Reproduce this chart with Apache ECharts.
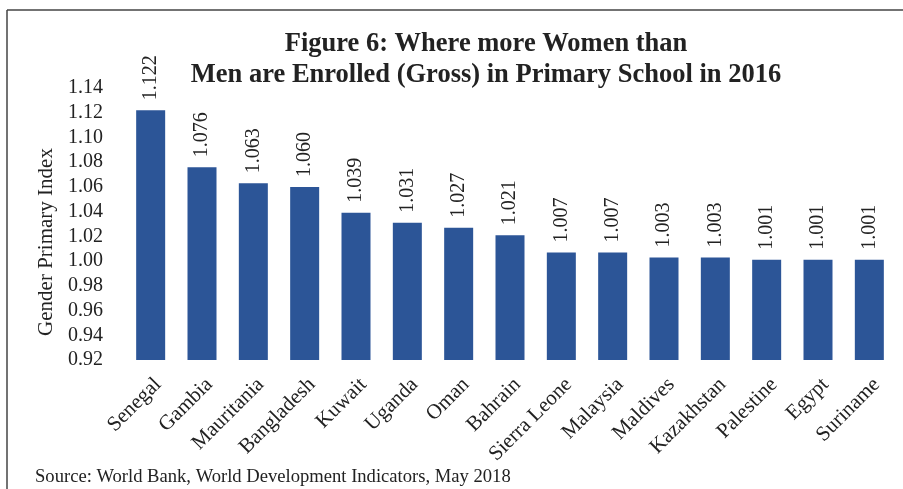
<!DOCTYPE html>
<html>
<head>
<meta charset="utf-8">
<script src="https://cdn.jsdelivr.net/npm/echarts@6/dist/echarts.min.js"></script>
<style>
  html, body { margin: 0; padding: 0; background: #fff; }
  #chart { width: 903px; height: 489px; }
</style>
</head>
<body>
<div id="chart"></div>
<script>
// countries, left to right
const countries = ['Senegal', 'Gambia', 'Mauritania', 'Bangladesh', 'Kuwait', 'Uganda', 'Oman',
  'Bahrain', 'Sierra Leone', 'Malaysia', 'Maldives', 'Kazakhstan', 'Palestine', 'Egypt', 'Suriname'];
// gender parity index (gross primary enrolment), 2016
const gpi = [1.122, 1.076, 1.063, 1.060, 1.039, 1.031, 1.027, 1.021, 1.007, 1.007, 1.003, 1.003, 1.001, 1.001, 1.001];

const serif = '"Liberation Serif", "DejaVu Serif", serif';

let myChart = echarts.init(document.getElementById('chart'));
myChart.setOption({
  animation: false,
  graphic: [
    // frame (top and left edges only)
    { type: 'line', shape: { x1: 7, y1: 10, x2: 903, y2: 10 }, style: { stroke: '#444', lineWidth: 1.5 } },
    { type: 'line', shape: { x1: 7, y1: 10, x2: 7, y2: 489 }, style: { stroke: '#444', lineWidth: 1.5 } },
    {
      type: 'text', x: 486, y: 29,
      style: {
        text: 'Figure 6: Where more Women than\nMen are Enrolled (Gross) in Primary School in 2016',
        font: 'bold 26.5px ' + serif, fill: '#222', textAlign: 'center', lineHeight: 31
      }
    },
    {
      type: 'text', left: 35, top: 468,
      style: { text: 'Source: World Bank, World Development Indicators, May 2018', font: '18.6px ' + serif, fill: '#222' }
    }
  ],
  grid: { left: 125, right: 8, top: 88, bottom: 129 },
  xAxis: {
    type: 'category',
    data: countries,
    axisLine: { show: false },
    axisTick: { show: false },
    axisLabel: {
      rotate: 45, margin: 14, interval: 0, verticalAlign: 'top',
      fontFamily: serif, fontSize: 21, color: '#222'
    }
  },
  yAxis: {
    type: 'value',
    min: 0.92,
    max: 1.14,
    interval: 0.02,
    name: 'Gender Primary Index',
    nameLocation: 'middle',
    nameGap: 68,
    nameTextStyle: { fontFamily: serif, fontSize: 21, color: '#222', padding: [0, 36, 0, 0] },
    splitLine: { show: false },
    axisLine: { show: false },
    axisTick: { show: false },
    axisLabel: { margin: 22, fontFamily: serif, fontSize: 20, color: '#222', formatter: v => v.toFixed(2) }
  },
  series: [{
    type: 'bar',
    data: gpi,
    barWidth: 29,
    itemStyle: { color: '#2C5597' },
    label: {
      show: true,
      position: 'top',
      rotate: 90,
      align: 'left',
      verticalAlign: 'middle',
      distance: 10,
      fontFamily: serif,
      fontSize: 20,
      color: '#222',
      formatter: p => p.value.toFixed(3)
    }
  }]
});
</script>
</body>
</html>
